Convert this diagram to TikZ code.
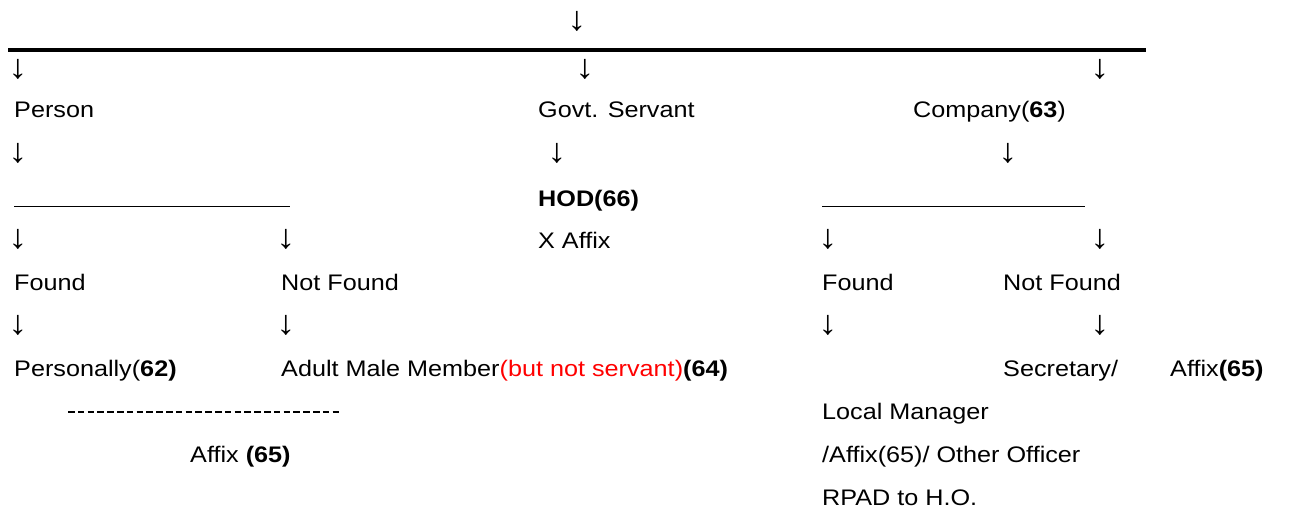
\documentclass[tikz,border=0pt]{standalone}
\usepackage{fontspec}
\setmainfont{Liberation Sans}[FakeStretch=1.12]
\usepackage{xcolor}
\usetikzlibrary{positioning}

\begin{document}
\begin{tikzpicture}[
  x=1pt, y=-1pt,
  entry/.style={anchor=base west, inner sep=0pt, font=\fontsize{22.5}{27}\selectfont},
  dn/.style={anchor=south, inner sep=0pt, font=\fontsize{34}{40}\selectfont},
  rule/.style={line width=0.9pt},
]
\useasboundingbox (0,0) rectangle (1290,508);

% top branch
\node[dn] (toparr) at (577,32) {↓};
\draw[line width=3.6pt] (8,50) coordinate (barl) -- (1146,50) coordinate (barr);

% first level
\node[dn] (arrp) at (18,80) {↓};
\node[dn] (arrg) at (585,80) {↓};
\node[dn] (arrc) at (1100,80) {↓};
\node[entry] (person) at (14,118) {Person};
\node[entry] (govt) at (538,118) {Govt. Servant};
\node[entry] (company) at (913,118) {Company(\textbf{63})};
\node[dn] (arrp2) at (18,164) {↓};
\node[dn] (arrg2) at (557,164) {↓};
\node[dn] (arrc2) at (1008,164) {↓};

% person side
\draw[rule] (14,206) coordinate (pl) -- (290,206) coordinate (pr);
\node[dn] (arrpf) at (18,250) {↓};
\node[dn] (arrpn) at (286,250) {↓};
\node[entry] (pfound) at (14,290) {Found};
\node[entry] (pnot) at (281,290) {Not Found};
\node[dn] (arrpf2) at (18,336) {↓};
\node[dn] (arrpn2) at (286,336) {↓};
\node[entry] (personally) at (14,376) {Personally(\textbf{62)}};
\node[entry] (adult) at (281,376) {Adult Male Member\textcolor{red}{(but not servant)}\textbf{(64)}};
\draw[line width=1.8pt, dash pattern=on 6.5pt off 3.3pt] (68,412) coordinate (dl) -- (342,412) coordinate (dr);
\node[entry] (paffix) at (190,462) {Affix \textbf{(65)}};

% govt side
\node[entry] (hod) at (538,206) {\textbf{HOD(66)}};
\node[entry] (xaffix) at (538,248) {X Affix};

% company side
\draw[rule] (822,206) coordinate (cl) -- (1085,206) coordinate (cr);
\node[dn] (arrcf) at (828,250) {↓};
\node[dn] (arrcn) at (1100,250) {↓};
\node[entry] (cfound) at (822,290) {Found};
\node[entry] (cnot) at (1003,290) {Not Found};
\node[dn] (arrcf2) at (828,336) {↓};
\node[dn] (arrcn2) at (1100,336) {↓};
\node[entry] (secy) at (1003,376) {Secretary/};
\node[entry] (caffix) at (1170,376) {Affix\textbf{(65)}};
\node[entry] (locmgr) at (822,419) {Local Manager};
\node[entry] (other) at (822,462) {/Affix(65)/ Other Officer};
\node[entry] (rpad) at (822,505) {RPAD to H.O.};

\end{tikzpicture}
\end{document}
